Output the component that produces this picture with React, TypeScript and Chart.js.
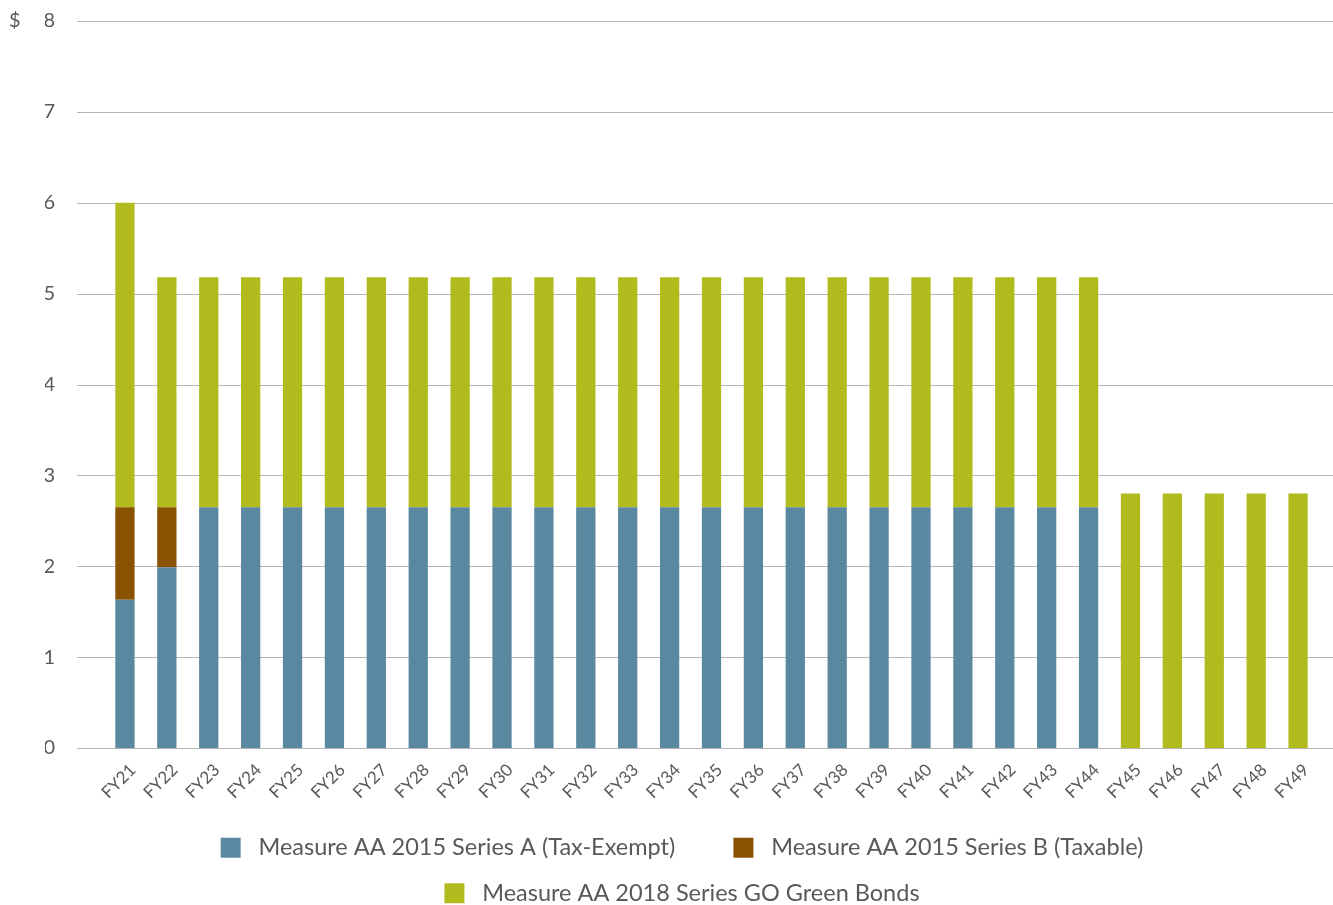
import { Chart, registerables } from "chart.js";
import { useEffect, useRef } from "react";

Chart.register(...registerables);

const years = [
  "FY21", "FY22", "FY23", "FY24", "FY25", "FY26", "FY27", "FY28", "FY29", "FY30",
  "FY31", "FY32", "FY33", "FY34", "FY35", "FY36", "FY37", "FY38", "FY39", "FY40",
  "FY41", "FY42", "FY43", "FY44", "FY45", "FY46", "FY47", "FY48", "FY49",
];

// $ millions
const seriesA = [
  1.63, 1.99, 2.65, 2.65, 2.65, 2.65, 2.65, 2.65, 2.65, 2.65,
  2.65, 2.65, 2.65, 2.65, 2.65, 2.65, 2.65, 2.65, 2.65, 2.65,
  2.65, 2.65, 2.65, 2.65, 0, 0, 0, 0, 0,
];
const seriesB = [
  1.02, 0.66, 0, 0, 0, 0, 0, 0, 0, 0,
  0, 0, 0, 0, 0, 0, 0, 0, 0, 0,
  0, 0, 0, 0, 0, 0, 0, 0, 0,
];
const greenBonds = [
  3.35, 2.53, 2.53, 2.53, 2.53, 2.53, 2.53, 2.53, 2.53, 2.53,
  2.53, 2.53, 2.53, 2.53, 2.53, 2.53, 2.53, 2.53, 2.53, 2.53,
  2.53, 2.53, 2.53, 2.53, 2.8, 2.8, 2.8, 2.8, 2.8,
];

const FONT = "Lato, 'Open Sans', sans-serif";
const TEXT = "#595959";

// horizontal grid lines that run past the bars on both sides, plus the "$" mark
const gridPlugin = {
  id: "wideGrid",
  beforeDatasetsDraw(chart: any) {
    const { ctx, scales } = chart;
    const y = scales.y;
    ctx.save();
    ctx.strokeStyle = "#b5b5b5";
    ctx.lineWidth = 1;
    y.ticks.forEach((t: any) => {
      const py = Math.round(y.getPixelForValue(t.value)) + 0.5;
      ctx.beginPath();
      ctx.moveTo(77, py);
      ctx.lineTo(chart.width, py);
      ctx.stroke();
    });
    ctx.fillStyle = TEXT;
    ctx.font = `20px ${FONT}`;
    ctx.textBaseline = "middle";
    ctx.textAlign = "left";
    ctx.fillText("$", 9, y.getPixelForValue(8));
    ctx.restore();
  },
};

const BondChart = () => {
  const canvasRef = useRef<HTMLCanvasElement | null>(null);
  const chartRef = useRef<Chart | null>(null);

  useEffect(() => {
    document.body.style.margin = "0";
    if (!canvasRef.current) return;
    if (chartRef.current) chartRef.current.destroy();

    chartRef.current = new Chart(canvasRef.current, {
      type: "bar",
      data: {
        labels: years,
        datasets: [
          {
            label: "Measure AA 2015 Series A (Tax-Exempt)",
            data: seriesA,
            backgroundColor: "#5b88a1",
          },
          {
            label: "Measure AA 2015 Series B (Taxable)",
            data: seriesB,
            backgroundColor: "#8a5200",
          },
          {
            label: "Measure AA 2018 Series GO Green Bonds",
            data: greenBonds,
            backgroundColor: "#b1bb1e",
          },
        ],
      },
      options: {
        animation: false,
        responsive: true,
        maintainAspectRatio: false,
        datasets: {
          bar: { barPercentage: 0.46, categoryPercentage: 1 },
        },
        layout: { padding: { left: 45, right: 14, top: 21, bottom: -10 } },
        scales: {
          x: {
            stacked: true,
            grid: { display: false, drawTicks: false },
            border: { display: false },
            ticks: {
              color: TEXT,
              font: { family: FONT, size: 17 },
              maxRotation: 45,
              minRotation: 45,
              padding: 12,
              labelOffset: 8,
              autoSkip: false,
            },
            afterFit(s: any) {
              s.height = 66;
            },
          },
          y: {
            stacked: true,
            min: 0,
            max: 8,
            grid: { display: false, drawTicks: false },
            border: { display: false },
            ticks: {
              stepSize: 1,
              color: TEXT,
              font: { family: FONT, size: 20 },
              padding: 49,
            },
            afterFit(s: any) {
              s.width = 59;
              s.paddingTop = 0;
              s.paddingBottom = 0;
            },
          },
        },
        plugins: {
          tooltip: { enabled: false },
          legend: {
            position: "bottom",
            labels: {
              color: TEXT,
              font: { family: FONT, size: 23.5 },
              boxWidth: 20,
              boxHeight: 20,
              padding: 22,
              generateLabels(chart: any) {
                const items = Chart.defaults.plugins.legend.labels.generateLabels(chart);
                return items.map((it: any, i: number) => ({
                  ...it,
                  text: " " + it.text + (i === 0 ? "      " : ""),
                }));
              },
            },
          },
        },
      },
      plugins: [gridPlugin],
    });

    return () => {
      if (chartRef.current) {
        chartRef.current.destroy();
        chartRef.current = null;
      }
    };
  }, []);

  return (
    <div style={{ width: "1333px", height: "905px", position: "relative" }}>
      <canvas ref={canvasRef} />
    </div>
  );
};

export default function App() {
  return <BondChart />;
}
